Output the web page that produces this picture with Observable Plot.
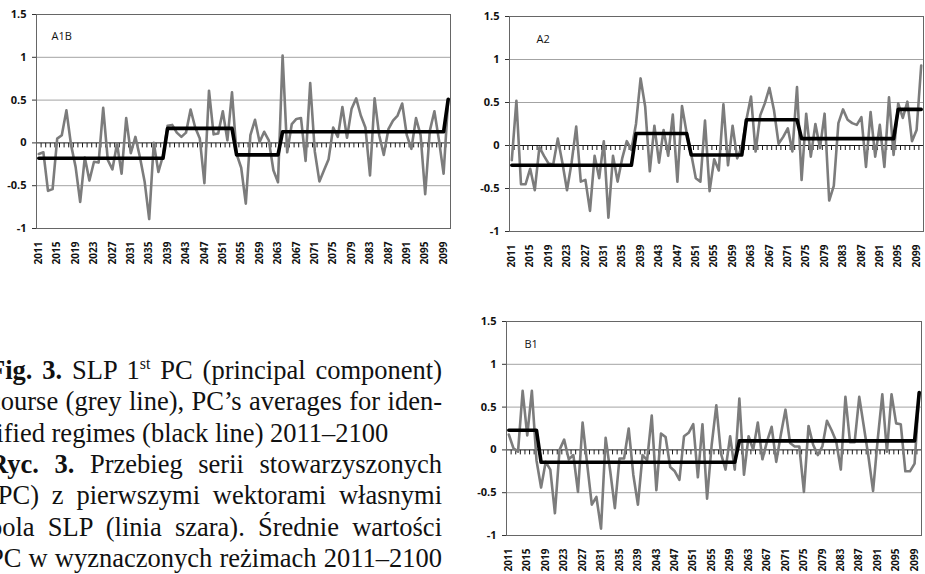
<!DOCTYPE html>
<html><head><meta charset="utf-8">
<script src="https://cdn.jsdelivr.net/npm/d3@7"></script>
<script src="https://cdn.jsdelivr.net/npm/@observablehq/plot@0.6"></script>
<style>
html,body{margin:0;padding:0;background:#fff;}
body{width:925px;height:574px;overflow:hidden;position:relative;}
.panel{position:absolute;}
.cap{position:absolute;left:-11px;font-family:"Liberation Serif","Times New Roman",serif;font-size:26.5px;line-height:27px;color:#111;white-space:nowrap;}
.cap b{font-weight:bold;}
.cap sup{font-size:0.6em;line-height:0;vertical-align:0.65em;}
</style>
</head><body>
<div id="a1b" class="panel" style="left:0;top:0"></div>
<div id="a2" class="panel" style="left:470px;top:0"></div>
<div id="b1" class="panel" style="left:470px;top:305px"></div>

<div class="cap just" style="top:357px"><b>Fig. 3.</b> SLP 1<sup>st</sup> PC (principal component)</div>
<div class="cap just" style="top:388px">course (grey line), PC’s averages for iden-</div>
<div class="cap" style="top:420px">tified regimes (black line) 2011–2100</div>
<div class="cap just" style="top:451px"><b>Ryc. 3.</b> Przebieg serii stowarzyszonych</div>
<div class="cap just" style="top:482px">(PC) z pierwszymi wektorami własnymi</div>
<div class="cap just" style="top:514px">pola SLP (linia szara). Średnie wartości</div>
<div class="cap just" style="top:545px">PC w wyznaczonych reżimach 2011–2100</div>

<script>
// ---- data ----
const years = d3.range(2011, 2101);
const tickYears = [2011,2015,2019,2023,2027,2031,2035,2039,2043,2047,2051,2055,2059,2063,2067,2071,2075,2079,2083,2087,2091,2095,2099];
const yTicks = [-1, -0.5, 0, 0.5, 1, 1.5];
const gridValues = [-0.5, 0.5, 1];

const a1bValues = [
  -0.13,-0.11,-0.56,-0.54,0.05,0.09,0.38,-0.02,-0.28,-0.69,
  -0.17,-0.44,-0.22,-0.23,0.41,-0.20,-0.31,-0.01,-0.36,0.29,
  -0.12,0.07,-0.17,-0.45,-0.89,0.00,-0.34,-0.15,0.20,0.21,
  0.12,0.07,0.12,0.39,0.18,0.05,-0.47,0.61,0.10,0.11,
  0.37,0.03,0.59,-0.13,-0.29,-0.71,0.09,0.27,0.01,0.13,
  0.03,-0.32,-0.46,1.02,-0.11,0.22,0.28,0.29,-0.21,0.70,
  -0.10,-0.45,-0.32,-0.19,0.18,0.07,0.42,0.06,0.40,0.52,
  0.32,0.18,-0.38,0.52,0.09,-0.14,0.16,0.26,0.32,0.46,
  0.09,-0.07,0.29,0.09,-0.60,0.14,0.37,0.03,-0.36,0.51
];
const a1bRegimeStart = [2011, 2039, 2054, 2064, 2100];
const a1bRegimeEnd   = [2038, 2053, 2063, 2099, 2100];
const a1bRegimeMean  = [-0.18, 0.17, -0.14, 0.13, 0.51];

const a2Values = [
  -0.17,0.52,-0.45,-0.45,-0.27,-0.52,-0.02,-0.12,-0.21,-0.22,
  0.08,-0.20,-0.52,-0.20,0.22,-0.42,-0.40,-0.76,-0.12,-0.38,
  0.05,-0.84,-0.12,-0.42,-0.15,0.05,-0.05,0.25,0.78,0.45,
  -0.30,0.23,-0.20,0.18,-0.12,0.36,-0.42,0.46,0.15,-0.10,
  -0.38,-0.42,0.29,-0.53,-0.16,-0.29,0.48,-0.23,0.23,-0.15,
  -0.01,0.30,0.57,-0.07,0.35,0.49,0.67,0.41,0.02,0.10,
  0.20,-0.07,0.68,-0.40,0.37,-0.13,0.25,-0.03,0.37,-0.64,
  -0.47,0.26,0.42,0.30,0.26,0.24,0.33,-0.25,0.39,-0.13,
  0.24,-0.25,0.56,-0.11,0.49,0.32,0.51,0.05,0.18,0.93
];
const a2RegimeStart = [2011, 2038, 2050, 2062, 2074, 2095];
const a2RegimeEnd   = [2037, 2049, 2061, 2073, 2094, 2100];
const a2RegimeMean  = [-0.23, 0.14, -0.11, 0.30, 0.08, 0.42];

const b1Values = [
  0.18,0.02,-0.02,0.69,0.17,0.69,-0.12,-0.44,-0.14,-0.23,
  -0.74,0.00,0.12,-0.11,-0.06,-0.49,0.32,-0.17,-0.64,-0.55,
  -0.92,0.14,-0.25,-0.68,-0.10,-0.10,0.25,-0.29,-0.64,-0.06,
  -0.12,0.40,-0.47,0.19,0.15,-0.20,-0.25,-0.35,0.16,0.20,
  0.30,-0.32,0.30,-0.57,0.06,0.52,-0.04,-0.23,0.16,-0.23,
  0.60,-0.29,0.16,0.00,0.32,-0.11,0.10,0.27,-0.14,0.18,
  0.47,0.08,0.04,0.04,-0.49,0.28,0.06,-0.06,0.04,0.34,
  0.23,0.10,-0.23,0.62,0.09,0.09,0.62,0.27,-0.08,-0.48,
  0.12,0.65,-0.02,0.65,0.31,0.30,-0.25,-0.25,-0.16,0.67
];
const b1RegimeStart = [2011, 2018, 2061, 2100];
const b1RegimeEnd   = [2017, 2060, 2099, 2100];
const b1RegimeMean  = [0.23, -0.145, 0.105, 0.67];

// ---- drawing ----
const categoryBoundaries = d3.range(2010.5, 2101, 1);
const tickDown = {draw(context) { context.moveTo(0, 0); context.lineTo(0, 4.5); }};

function makePanel(id, label, values, rStart, rEnd, rMean, o) {
  const series = years.map((year, i) => ({year, value: values[i]}));
  const regime = years.map(year => {
    const j = rStart.findIndex((s, k) => year >= s && year <= rEnd[k]);
    return {year, value: rMean[j]};
  });
  const chart = Plot.plot({
    width: o.width, height: o.height,
    marginLeft: o.ml, marginRight: o.mr, marginTop: o.mt, marginBottom: o.mb,
    x: {domain: [2010.5, 2100.5], label: null},
    y: {domain: [-1, 1.5], label: null},
    style: {fontFamily: "'Open Sans', sans-serif", fontWeight: "bold", background: "white", color: "#111", overflow: "visible"},
    marks: [
      Plot.ruleY(gridValues, {stroke: "#a3a3a3", strokeWidth: 1}),
      Plot.ruleY([0], {stroke: "#1a1a1a", strokeWidth: 1}),
      Plot.dot(categoryBoundaries, {x: d => d, y: () => 0, symbol: tickDown, stroke: "#1a1a1a", fill: "none", strokeWidth: 1}),
      Plot.frame({stroke: "#666", strokeWidth: 1}),
      Plot.line(series, {x: "year", y: "value", stroke: "#7c7c7c", strokeWidth: 2.6}),
      Plot.line(regime, {x: "year", y: "value", stroke: "#000", strokeWidth: 3.6}),
      Plot.axisY(yTicks, {tickSize: 4, tickPadding: 6, tickFormat: d => String(d), fontSize: 11, stroke: "#333", label: null}),
      Plot.axisX(tickYears, {tickSize: 0, tickPadding: 13, tickRotate: -90, tickFormat: d => String(d), fontSize: 10, label: null}),
      Plot.text([label], {frameAnchor: "top-left", dx: o.ldx, dy: o.ldy, fontSize: 11, fontWeight: "normal", textAnchor: "start"})
    ]
  });
  document.getElementById(id).appendChild(chart);
}

makePanel("a1b", "A1B", a1bValues, a1bRegimeStart, a1bRegimeEnd, a1bRegimeMean,
  {width: 460, height: 290, ml: 36, mr: 10, mt: 14, mb: 62, ldx: 15, ldy: 18});
makePanel("a2", "A2", a2Values, a2RegimeStart, a2RegimeEnd, a2RegimeMean,
  {width: 455, height: 290, ml: 39, mr: 2, mt: 16, mb: 59, ldx: 27, ldy: 19});
makePanel("b1", "B1", b1Values, b1RegimeStart, b1RegimeEnd, b1RegimeMean,
  {width: 455, height: 269, ml: 36, mr: 4, mt: 16, mb: 39, ldx: 18, ldy: 19});

// justify caption lines to a common right edge (x = 442) by adjusting word spacing
const capWidth = 453;
document.querySelectorAll(".cap.just").forEach(el => {
  const natural = el.getBoundingClientRect().width;
  const spaces = (el.textContent.match(/ /g) || []).length;
  if (spaces > 0) el.style.wordSpacing = ((capWidth - natural) / spaces) + "px";
});
</script>
</body></html>
